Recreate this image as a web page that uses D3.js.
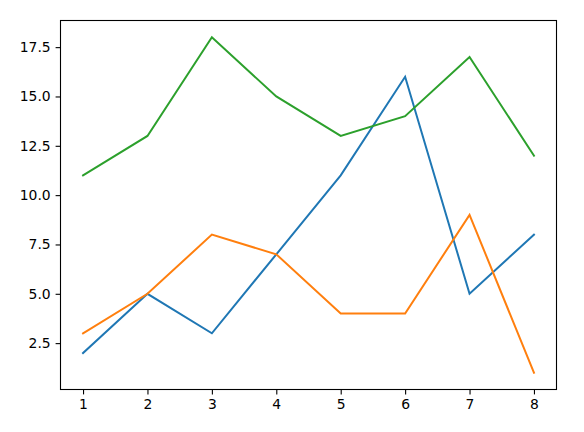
<!DOCTYPE html>
<html>
<head>
  <meta charset="UTF-8">
  <style>
    body { margin: 0; background: #fff; }
    svg { display: block; }
    .tick text { font-family: "DejaVu Sans", sans-serif; font-size: 13.9px; fill: #000; }
  </style>
</head>
<body>
<svg></svg>
<script src="https://d3js.org/d3.v7.min.js"></script>
<script>

let width = 584, height = 432;

let xs = [1, 2, 3, 4, 5, 6, 7, 8];
let blue = [2, 5, 3, 7, 11, 16, 5, 8];
let orange = [3, 5, 8, 7, 4, 4, 9, 1];
let green = [11, 13, 18, 15, 13, 14, 17, 12];
let yTicks = [2.5, 5, 7.5, 10, 12.5, 15, 17.5];

let series = [
  { vals: blue, color: "#1f77b4" },
  { vals: orange, color: "#ff7f0e" },
  { vals: green, color: "#2ca02c" }
];

let mLeft = 60.5, mRight = 556.5, mTop = 20.5, mBottom = 389.5;

let svg = d3.select("svg")
    .attr("width", width)
    .attr("height", height);

// matplotlib style 5% margins
let xMin = d3.min(xs), xMax = d3.max(xs);
let allY = blue.concat(orange, green);
let yMin = d3.min(allY), yMax = d3.max(allY);
let xPad = (xMax - xMin) * 0.05, yPad = (yMax - yMin) * 0.05;

let x = d3.scaleLinear().domain([xMin - xPad, xMax + xPad]).range([mLeft, mRight]);
let y = d3.scaleLinear().domain([yMin - yPad, yMax + yPad]).range([mBottom, mTop]);

let line = d3.line()
    .x((d, i) => x(xs[i]))
    .y(d => y(d));

svg.selectAll("path.series")
    .data(series)
    .enter()
    .append("path")
    .attr("class", "series")
    .attr("d", d => line(d.vals))
    .attr("fill", "none")
    .attr("stroke", d => d.color)
    .attr("stroke-width", 2)
    .attr("stroke-linecap", "square");

let xAxis = d3.axisBottom(x).tickValues(xs).tickSize(4.9).tickPadding(4.9).tickFormat(d3.format("d"));
let yAxis = d3.axisLeft(y).tickValues(yTicks).tickSize(4.9).tickPadding(4.9).tickFormat(d3.format(".1f"));

svg.append("g")
    .attr("transform", "translate(0," + mBottom + ")")
    .call(xAxis)
    .call(g => g.select(".domain").remove());

svg.append("g")
    .attr("transform", "translate(" + mLeft + ",0)")
    .call(yAxis)
    .call(g => g.select(".domain").remove());

svg.selectAll(".tick line").attr("stroke", "#000").attr("stroke-width", 1.1);

svg.append("rect")
    .attr("x", mLeft)
    .attr("y", mTop)
    .attr("width", mRight - mLeft)
    .attr("height", mBottom - mTop)
    .attr("fill", "none")
    .attr("stroke", "#000")
    .attr("stroke-width", 1.1);

</script>
</body>
</html>
